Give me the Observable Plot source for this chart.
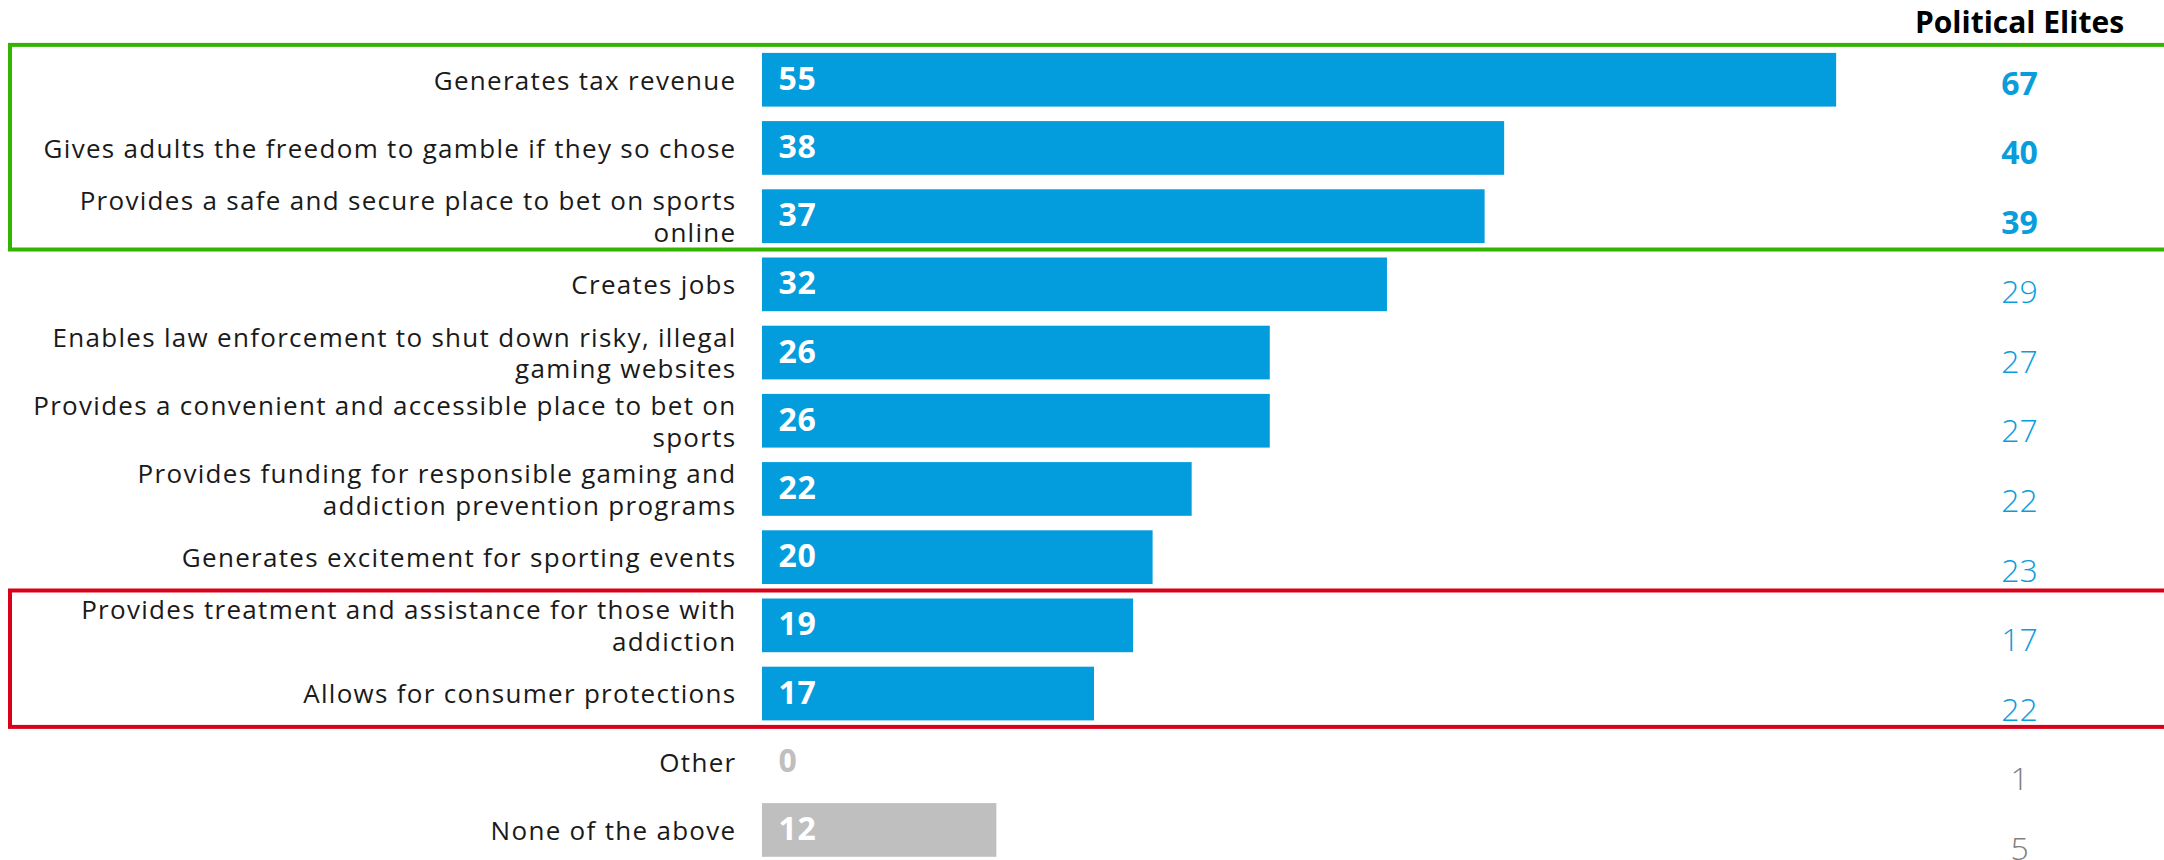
<!DOCTYPE html>
<html><head><meta charset="utf-8">
<script src="https://cdn.jsdelivr.net/npm/d3@7"></script>
<script src="https://cdn.jsdelivr.net/npm/@observablehq/plot@0.6"></script>
<style>
body{margin:0;background:#fff}
#wrap{position:relative;width:2164px;height:860px;background:#fff}
#wrap svg{position:absolute;left:0;top:0}
</style></head><body><div id="wrap"></div>
<script>
// ---- data ----
const categories = [
  "Generates tax revenue",
  "Gives adults the freedom to gamble if they so chose",
  "Provides a safe and secure place to bet on sports\nonline",
  "Creates jobs",
  "Enables law enforcement to shut down risky, illegal\ngaming websites",
  "Provides a convenient and accessible place to bet on\nsports",
  "Provides funding for responsible gaming and\naddiction prevention programs",
  "Generates excitement for sporting events",
  "Provides treatment and assistance for those with\naddiction",
  "Allows for consumer protections",
  "Other",
  "None of the above"
];
const allAdults = [55, 38, 37, 32, 26, 26, 22, 20, 19, 17, 0, 12];
const politicalElites = [67, 40, 39, 29, 27, 27, 22, 23, 17, 22, 1, 5];
const columnTitle = "Political Elites";
const mutedRows = ["Other", "None of the above"];
const strongRows = [0, 1, 2];
const boxFrom = [0, 8];
const boxTo = [3, 10];
const boxColors = ["#33b400", "#d9001b"];

const BLUE = "#039cdd", GRAY = "#bfbfbf";
const FONT = "'Open Sans', sans-serif";

const rows = categories.map((label, i) => ({
  label, row: i, value: allAdults[i], muted: mutedRows.includes(label)
}));
const boxes = boxFrom.map((f, i) => ({from: f, to: boxTo[i], color: boxColors[i]}));

const main = Plot.plot({
  width: 2164, height: 860,
  marginLeft: 10, marginRight: 0, marginTop: 0, marginBottom: 0,
  style: {fontFamily: FONT, background: "transparent", color: "#1a1a1a"},
  x: {domain: [0, 70], range: [762, 762 + 70 * 19.53], axis: null},
  y: {domain: [0, 12], range: [44.9, 863.3], axis: null},
  marks: [
    Plot.rect(rows, {
      x1: 0, x2: "value", y1: "row", y2: d => d.row + 1,
      insetTop: 8, insetBottom: 6.5,
      fill: d => d.muted ? GRAY : BLUE
    }),
    Plot.text(rows, {
      x: 0, y: d => d.row + 0.5, text: d => String(d.value),
      dx: 16, textAnchor: "start", fontSize: 32, fontWeight: 700,
      fill: d => d.value > 0 ? "white" : GRAY
    }),
    Plot.text(rows, {
      x: 0, y: d => d.row + 0.5, text: "label",
      dx: -26, textAnchor: "end", fontSize: 26, lineHeight: 1.22,
      fill: "#1a1a1a"
    }),
    Plot.rect(boxes, {
      y1: "from", y2: "to", stroke: "color", fill: "none",
      strokeWidth: 4, insetRight: -8
    })
  ]
});

// widen the category labels to match the original's wide typeface
const textGroups = main.querySelectorAll("g[aria-label='text']");
if (textGroups[0]) textGroups[0].style.letterSpacing = "0.6px";
if (textGroups[1]) textGroups[1].style.letterSpacing = "1.3px";

const colRows = categories.map((c, i) => ({
  row: i, col: columnTitle, value: politicalElites[i],
  strong: strongRows.includes(i), muted: mutedRows.includes(c)
}));

const overlay = Plot.plot({
  width: 2164, height: 860,
  marginTop: 35, marginLeft: 1910, marginRight: 36, marginBottom: 0,
  style: {fontFamily: FONT, background: "transparent", color: "#000"},
  x: {type: "point", domain: [columnTitle]},
  y: {domain: [0, 12], range: [49.2, 883.8], axis: null},
  marks: [
    Plot.axisX({anchor: "top", tickSize: 0, tickPadding: 3, fontSize: 30, fontWeight: 700, label: null}),
    Plot.text(colRows.filter(d => d.strong), {
      x: "col", y: d => d.row + 0.5, text: d => String(d.value),
      fontSize: 32, fontWeight: 700, fill: "#0a9ddc"
    }),
    Plot.text(colRows.filter(d => !d.strong), {
      x: "col", y: d => d.row + 0.5, text: d => String(d.value),
      fontSize: 32, fontWeight: 300,
      fill: d => d.muted ? "#808080" : "#0a9ddc"
    })
  ]
});

const wrap = document.getElementById("wrap");
wrap.appendChild(main);
wrap.appendChild(overlay);
</script>
</body></html>
